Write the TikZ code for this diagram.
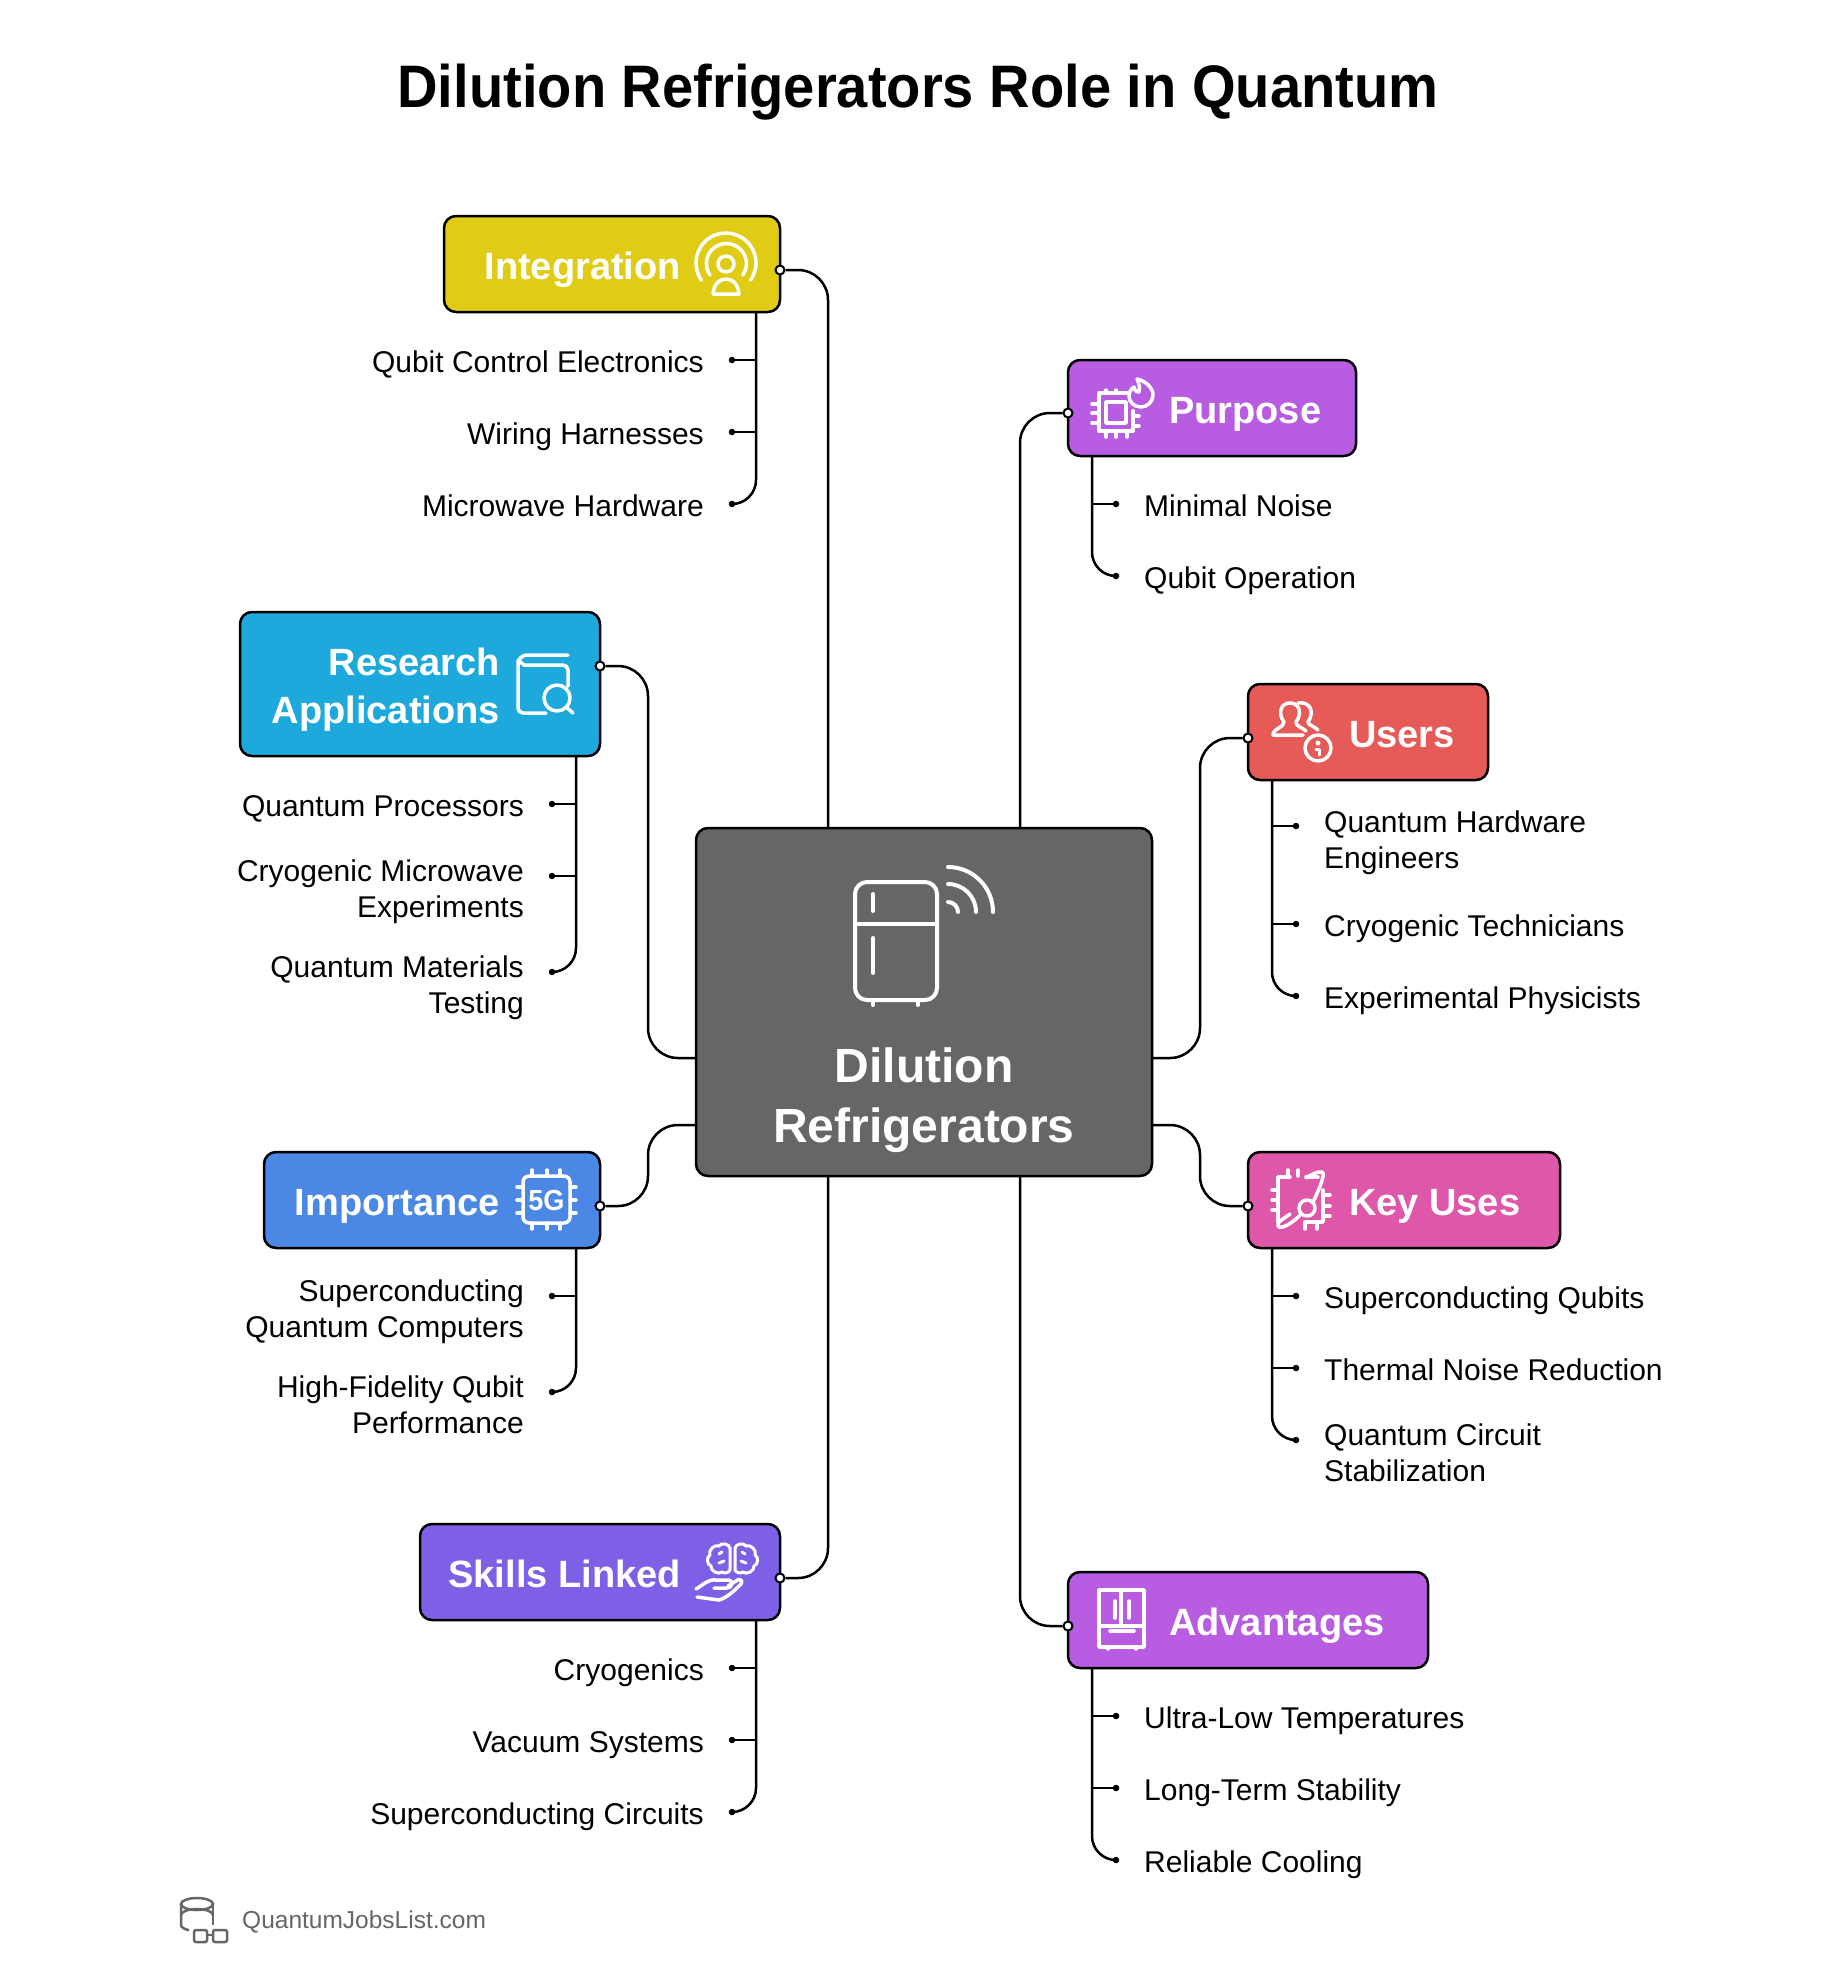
\documentclass[tikz,border=0pt]{standalone}
\usepackage{fontspec}
\setmainfont{Liberation Sans}
\newfontfamily\titlefont[FakeStretch=0.935]{Liberation Sans}
\definecolor{hubgrey}{HTML}{666666}
\definecolor{intyellow}{HTML}{E0CC15}
\definecolor{purpviolet}{HTML}{B85CE2}
\definecolor{resblue}{HTML}{1EA9DC}
\definecolor{userred}{HTML}{E65A57}
\definecolor{keypink}{HTML}{DE57A8}
\definecolor{impblue}{HTML}{4B87E5}
\definecolor{skillviolet}{HTML}{7E60E6}
\tikzset{
    hdr/.style={draw=black, line width=2.5pt, rounded corners=12pt, inner sep=0pt},
    hdrtext/.style={text=white, font=\fontsize{38}{48}\selectfont\bfseries, inner sep=0pt, text height=30pt, text depth=8pt},
    itemtext/.style={text=black, font=\fontsize{30}{36}\selectfont, inner sep=0pt, text height=22pt, text depth=7pt},
    wire/.style={line width=2.5pt, rounded corners=30pt},
    stem/.style={line width=2.5pt, rounded corners=24pt},
    port/.style={circle, draw=black, fill=white, line width=2pt, minimum size=9pt, inner sep=0pt},
    tip/.style={circle, fill=black, minimum size=6.5pt, inner sep=0pt},
    glyph/.style={draw=white, line width=3.5pt, line cap=round, line join=round},
}
\begin{document}
\begin{tikzpicture}[x=1pt, y=-1pt]
    \useasboundingbox[fill=white] (0, 0) rectangle (1846, 1963);
    \node[font=\titlefont\fontsize{60}{72}\selectfont\bfseries, inner sep=0pt, anchor=base] (title) at (918, 107) {Dilution Refrigerators Role in Quantum};
    \node[hdr, fill=hubgrey, minimum width=456pt, minimum height=348pt] (hub) at (924, 1002) {};
    \node[hdr, fill=intyellow, minimum width=336pt, minimum height=96pt] (integration) at (612, 264) {};
    \node[hdr, fill=purpviolet, minimum width=288pt, minimum height=96pt] (purpose) at (1212, 408) {};
    \node[hdr, fill=resblue, minimum width=360pt, minimum height=144pt] (research) at (420, 684) {};
    \node[hdr, fill=userred, minimum width=240pt, minimum height=96pt] (users) at (1368, 732) {};
    \node[hdr, fill=impblue, minimum width=336pt, minimum height=96pt] (importance) at (432, 1200) {};
    \node[hdr, fill=keypink, minimum width=312pt, minimum height=96pt] (keyuses) at (1404, 1200) {};
    \node[hdr, fill=skillviolet, minimum width=360pt, minimum height=96pt] (skills) at (600, 1572) {};
    \node[hdr, fill=purpviolet, minimum width=360pt, minimum height=96pt] (advantages) at (1248, 1620) {};
    \node[font=\fontsize{48}{60}\selectfont\bfseries, text=white, align=center, inner sep=0pt, text height=36pt, text depth=10pt] (hubtext) at (924, 1129) {Dilution\\Refrigerators};
    \node[hdrtext, anchor=east] (integrationtext) at (681, 268) {Integration};
    \node[hdrtext, anchor=west] (purposetext) at (1169, 412) {Purpose};
    \node[hdrtext, anchor=east, align=right] (researchtext) at (500, 712) {Research\\Applications};
    \node[hdrtext, anchor=west] (userstext) at (1349, 736) {Users};
    \node[hdrtext, anchor=east] (importancetext) at (500, 1204) {Importance};
    \node[hdrtext, anchor=west] (keyusestext) at (1349, 1204) {Key Uses};
    \node[hdrtext, anchor=east] (skillstext) at (681, 1576) {Skills Linked};
    \node[hdrtext, anchor=west] (advantagestext) at (1169, 1624) {Advantages};
    \node[itemtext, anchor=east] (int1) at (704, 364.5) {Qubit Control Electronics};
    \node[itemtext, anchor=east] (int2) at (704, 436.5) {Wiring Harnesses};
    \node[itemtext, anchor=east] (int3) at (704, 508.5) {Microwave Hardware};
    \node[itemtext, anchor=west] (pur1) at (1144, 508.5) {Minimal Noise};
    \node[itemtext, anchor=west] (pur2) at (1144, 580.5) {Qubit Operation};
    \node[itemtext, anchor=east] (res1) at (524, 808.5) {Quantum Processors};
    \node[itemtext, anchor=east, align=right] (res2) at (524, 909.5) {Cryogenic Microwave\\Experiments};
    \node[itemtext, anchor=east, align=right] (res3) at (524, 1006) {Quantum Materials\\Testing};
    \node[itemtext, anchor=west, align=left] (use1) at (1324, 860.5) {Quantum Hardware\\Engineers};
    \node[itemtext, anchor=west] (use2) at (1324, 928.5) {Cryogenic Technicians};
    \node[itemtext, anchor=west] (use3) at (1324, 1000.5) {Experimental Physicists};
    \node[itemtext, anchor=east, align=right] (imp1) at (524, 1330) {Superconducting\\Quantum Computers};
    \node[itemtext, anchor=east, align=right] (imp2) at (524, 1425.5) {High-Fidelity Qubit\\Performance};
    \node[itemtext, anchor=west] (key1) at (1324, 1300.5) {Superconducting Qubits};
    \node[itemtext, anchor=west] (key2) at (1324, 1372.5) {Thermal Noise Reduction};
    \node[itemtext, anchor=west, align=left] (key3) at (1324, 1474) {Quantum Circuit\\Stabilization};
    \node[itemtext, anchor=east] (ski1) at (704, 1672.5) {Cryogenics};
    \node[itemtext, anchor=east] (ski2) at (704, 1744.5) {Vacuum Systems};
    \node[itemtext, anchor=east] (ski3) at (704, 1816.5) {Superconducting Circuits};
    \node[itemtext, anchor=west] (adv1) at (1144, 1720.5) {Ultra-Low Temperatures};
    \node[itemtext, anchor=west] (adv2) at (1144, 1792.5) {Long-Term Stability};
    \node[itemtext, anchor=west] (adv3) at (1144, 1864.5) {Reliable Cooling};
    \node[font=\fontsize{24.5}{29}\selectfont, text=hubgrey, anchor=west, inner sep=0pt] (site) at (242, 1922) {QuantumJobsList.com};
    \coordinate (hubnl) at (828, 828);
    \coordinate (hubnr) at (1020, 828);
    \coordinate (hubsl) at (828, 1176);
    \coordinate (hubsr) at (1020, 1176);
    \coordinate (hubwu) at (696, 1058);
    \coordinate (hubwd) at (696, 1125);
    \coordinate (hubeu) at (1152, 1058);
    \coordinate (hubed) at (1152, 1125);
    \node[port] (intport) at (780, 270) {};
    \node[port] (purport) at (1068, 413) {};
    \node[port] (resport) at (600, 666) {};
    \node[port] (useport) at (1248, 738) {};
    \node[port] (impport) at (600, 1206) {};
    \node[port] (keyport) at (1248, 1206) {};
    \node[port] (skiport) at (780, 1578) {};
    \node[port] (advport) at (1068, 1626) {};
    \draw[wire] (intport) -| (hubnl);
    \draw[wire] (skiport) -| (hubsl);
    \draw[wire] (purport) -| (hubnr);
    \draw[wire] (advport) -| (hubsr);
    \draw[wire] (resport) -- (648, 666) |- (hubwu);
    \draw[wire] (impport) -- (648, 1206) |- (hubwd);
    \draw[wire] (useport) -- (1200, 738) |- (hubeu);
    \draw[wire] (keyport) -- (1200, 1206) |- (hubed);
    \node[tip] (intd1) at (732, 360) {};
    \node[tip] (intd2) at (732, 432) {};
    \node[tip] (intd3) at (732, 504) {};
    \draw[stem] (756, 312) |- (intd3);
    \draw[line width=2.5pt] (intd1) -- (756, 360);
    \draw[line width=2.5pt] (intd2) -- (756, 432);
    \node[tip] (purd1) at (1116, 504) {};
    \node[tip] (purd2) at (1116, 576) {};
    \draw[stem] (1092, 456) |- (purd2);
    \draw[line width=2.5pt] (purd1) -- (1092, 504);
    \node[tip] (resd1) at (552, 804) {};
    \node[tip] (resd2) at (552, 876) {};
    \node[tip] (resd3) at (552, 972) {};
    \draw[stem] (576, 756) |- (resd3);
    \draw[line width=2.5pt] (resd1) -- (576, 804);
    \draw[line width=2.5pt] (resd2) -- (576, 876);
    \node[tip] (used1) at (1296, 826) {};
    \node[tip] (used2) at (1296, 924) {};
    \node[tip] (used3) at (1296, 996) {};
    \draw[stem] (1272, 780) |- (used3);
    \draw[line width=2.5pt] (used1) -- (1272, 826);
    \draw[line width=2.5pt] (used2) -- (1272, 924);
    \node[tip] (impd1) at (552, 1296) {};
    \node[tip] (impd2) at (552, 1392) {};
    \draw[stem] (576, 1248) |- (impd2);
    \draw[line width=2.5pt] (impd1) -- (576, 1296);
    \node[tip] (keyd1) at (1296, 1296) {};
    \node[tip] (keyd2) at (1296, 1368) {};
    \node[tip] (keyd3) at (1296, 1440) {};
    \draw[stem] (1272, 1248) |- (keyd3);
    \draw[line width=2.5pt] (keyd1) -- (1272, 1296);
    \draw[line width=2.5pt] (keyd2) -- (1272, 1368);
    \node[tip] (skid1) at (732, 1668) {};
    \node[tip] (skid2) at (732, 1740) {};
    \node[tip] (skid3) at (732, 1812) {};
    \draw[stem] (756, 1620) |- (skid3);
    \draw[line width=2.5pt] (skid1) -- (756, 1668);
    \draw[line width=2.5pt] (skid2) -- (756, 1740);
    \node[tip] (advd1) at (1116, 1716) {};
    \node[tip] (advd2) at (1116, 1788) {};
    \node[tip] (advd3) at (1116, 1860) {};
    \draw[stem] (1092, 1668) |- (advd3);
    \draw[line width=2.5pt] (advd1) -- (1092, 1716);
    \draw[line width=2.5pt] (advd2) -- (1092, 1788);
    % fridge
    \draw[glyph, line width=4pt, rounded corners=12pt] (855, 882) rectangle (937, 1000);
    \draw[glyph, line width=4pt, line cap=butt] (855, 924) -- (937, 924);
    \draw[glyph, line width=4pt] (873, 894) -- (873, 911);
    \draw[glyph, line width=4pt] (873, 938) -- (873, 973);
    \draw[glyph, line width=4pt] (873, 1000) -- (873, 1005);
    \draw[glyph, line width=4pt] (918, 1000) -- (918, 1005);
    \draw[glyph, line width=4pt] (948, 902) arc (270:360:10);
    \draw[glyph, line width=4pt] (948, 884) arc (270:360:28);
    \draw[glyph, line width=4pt] (948, 867) arc (270:360:45);
    % integration
    \draw[glyph] (726, 264) circle (8);
    \draw[glyph] (710, 275) arc (145:395:20);
    \draw[glyph] (701.4, 280.2) arc (145:395:30);
    \draw[glyph] (713, 294) -- (739, 294) .. controls (738, 284) and (733, 279) .. (726, 279) .. controls (719, 279) and (714, 284) .. (713, 294);
    % purpose
    \draw[glyph, line width=4pt] (1127, 393) -- (1099, 393) -- (1099, 431) -- (1133, 431) -- (1133, 411);
    \draw[glyph] (1106, 402) rectangle (1126, 423);
    \draw[glyph] (1092, 404) -- (1099, 404) (1092, 413) -- (1099, 413) (1092, 423) -- (1099, 423);
    \draw[glyph] (1106, 390) -- (1106, 393) (1116, 390) -- (1116, 393);
    \draw[glyph] (1106, 431) -- (1106, 437) (1116, 431) -- (1116, 437) (1127, 431) -- (1127, 437);
    \draw[glyph] (1133, 416) -- (1139, 416) (1133, 426) -- (1139, 426);
    \draw[glyph] (1137, 379) .. controls (1146, 381) and (1153, 388) .. (1153, 395) .. controls (1153, 402) and (1147, 407) .. (1141, 407) .. controls (1134, 407) and (1129, 402) .. (1129, 396) .. controls (1129, 392) and (1131, 389) .. (1134, 387) .. controls (1135, 391) and (1137, 393) .. (1139, 392) .. controls (1140, 388) and (1139, 383) .. (1137, 379) -- cycle;
    % research
    \draw[glyph, rounded corners=5pt] (568, 686) -- (568, 665) -- (524, 665) (518, 660) -- (518, 713) -- (546, 713);
    \draw[glyph, rounded corners=3pt] (568, 655) -- (524, 655) -- (518, 660) -- (524, 665);
    \draw[glyph] (557, 698) circle (13);
    \draw[glyph] (566, 707) -- (573, 713);
    % users
    \draw[glyph] (1303, 735) -- (1273, 735) .. controls (1273, 728) and (1284, 728) .. (1284, 722) .. controls (1278, 714) and (1280, 703) .. (1290, 703) .. controls (1300, 703) and (1302, 714) .. (1296, 722) .. controls (1296, 727) and (1302, 727) .. (1306, 731);
    \draw[glyph] (1298, 703) .. controls (1308, 701) and (1316, 710) .. (1308, 722) .. controls (1308, 725) and (1314, 726) .. (1318, 730);
    \draw[glyph] (1318, 748) circle (13);
    \fill[white] (1318, 743) circle (2.5);
    \draw[glyph, line width=3pt] (1316, 749) -- (1319, 749) -- (1319, 755);
    % key uses
    \draw[glyph] (1290, 1177) -- (1278, 1177) -- (1278, 1222);
    \draw[glyph] (1306, 1177) -- (1318, 1177) (1323, 1190) -- (1323, 1222) -- (1305, 1222);
    \draw[glyph] (1288, 1170) -- (1288, 1177) (1298, 1170) -- (1298, 1176);
    \draw[glyph] (1272, 1190) -- (1278, 1190) (1272, 1200) -- (1278, 1200) (1272, 1210) -- (1278, 1210);
    \draw[glyph] (1323, 1195) -- (1330, 1195) (1323, 1206) -- (1330, 1206) (1323, 1216) -- (1330, 1216);
    \draw[glyph] (1305, 1222) -- (1305, 1229) (1317, 1222) -- (1317, 1229);
    \draw[glyph] (1307, 1208) circle (8);
    \draw[glyph] (1301, 1214) .. controls (1292, 1224) and (1280, 1230) .. (1278, 1226) .. controls (1276, 1222) and (1285, 1218) .. (1290, 1214);
    \draw[glyph] (1313, 1202) .. controls (1319, 1190) and (1326, 1173) .. (1322, 1172) .. controls (1318, 1171) and (1310, 1175) .. (1306, 1178);
    % importance
    \draw[glyph, rounded corners=6pt] (523, 1176) rectangle (570, 1223);
    \draw[glyph] (532, 1170) -- (532, 1176) (547, 1170) -- (547, 1176) (560, 1170) -- (560, 1176);
    \draw[glyph] (532, 1223) -- (532, 1229) (547, 1223) -- (547, 1229) (560, 1223) -- (560, 1229);
    \draw[glyph] (517, 1187) -- (523, 1187) (517, 1200) -- (523, 1200) (517, 1213) -- (523, 1213);
    \draw[glyph] (570, 1187) -- (576, 1187) (570, 1200) -- (576, 1200) (570, 1213) -- (576, 1213);
    \node[font=\titlefont\fontsize{29}{29}\selectfont\bfseries, text=white, inner sep=0pt] (fiveg) at (546.5, 1200) {5G};
    % skills
    \draw[glyph, line width=3pt] (730, 1548) to[bend right=70] (719, 1546) to[bend right=70] (710, 1555) to[bend right=70] (711, 1566) to[bend right=70] (722, 1572) to[bend right=50] (730, 1570) -- cycle;
    \draw[glyph, line width=3pt] (735, 1548) to[bend left=70] (746, 1546) to[bend left=70] (755, 1555) to[bend left=70] (754, 1566) to[bend left=70] (743, 1572) to[bend left=50] (735, 1570) -- cycle;
    \draw[glyph, line width=3pt] (719, 1554) -- (722, 1552) (745, 1554) -- (742, 1552) (719, 1563) -- (724, 1561) (746, 1563) -- (741, 1561);
    \draw[glyph] (696, 1589) .. controls (703, 1585) and (708, 1579) .. (716, 1580) -- (729, 1580) .. controls (734, 1581) and (732, 1588) .. (727, 1588) -- (714, 1588);
    \draw[glyph] (728, 1586) -- (736, 1581) .. controls (741, 1577) and (744, 1582) .. (740, 1585) .. controls (733, 1592) and (726, 1598) .. (719, 1600) -- (697, 1597);
    % advantages
    \draw[glyph] (1099, 1590) rectangle (1144, 1647);
    \draw[glyph] (1099, 1626) -- (1144, 1626);
    \draw[glyph] (1121, 1590) -- (1121, 1626);
    \draw[glyph] (1115, 1601) -- (1115, 1618);
    \draw[glyph] (1129, 1601) -- (1129, 1618);
    \draw[glyph] (1110, 1631) -- (1134, 1631);
    \draw[glyph] (1108, 1647) -- (1108, 1649);
    \draw[glyph] (1136, 1647) -- (1136, 1649);
    % site
    \draw[draw=hubgrey, line width=2.5pt] (197, 1904) ellipse (16 and 6);
    \draw[draw=hubgrey, line width=2.5pt] (181, 1904) -- (181, 1925) arc (180:120:16 and 6);
    \draw[draw=hubgrey, line width=2.5pt] (213, 1904) -- (213, 1925);
    \draw[draw=hubgrey, line width=2.5pt] (181, 1915) arc (180:0:16 and -6);
    \draw[draw=hubgrey, line width=2.5pt, rounded corners=2pt] (194, 1930) rectangle (207, 1942);
    \draw[draw=hubgrey, line width=2.5pt, rounded corners=2pt] (213, 1930) rectangle (227, 1942);
    \draw[draw=hubgrey, line width=2.5pt] (207, 1935) -- (213, 1935);
\end{tikzpicture}
\end{document}
